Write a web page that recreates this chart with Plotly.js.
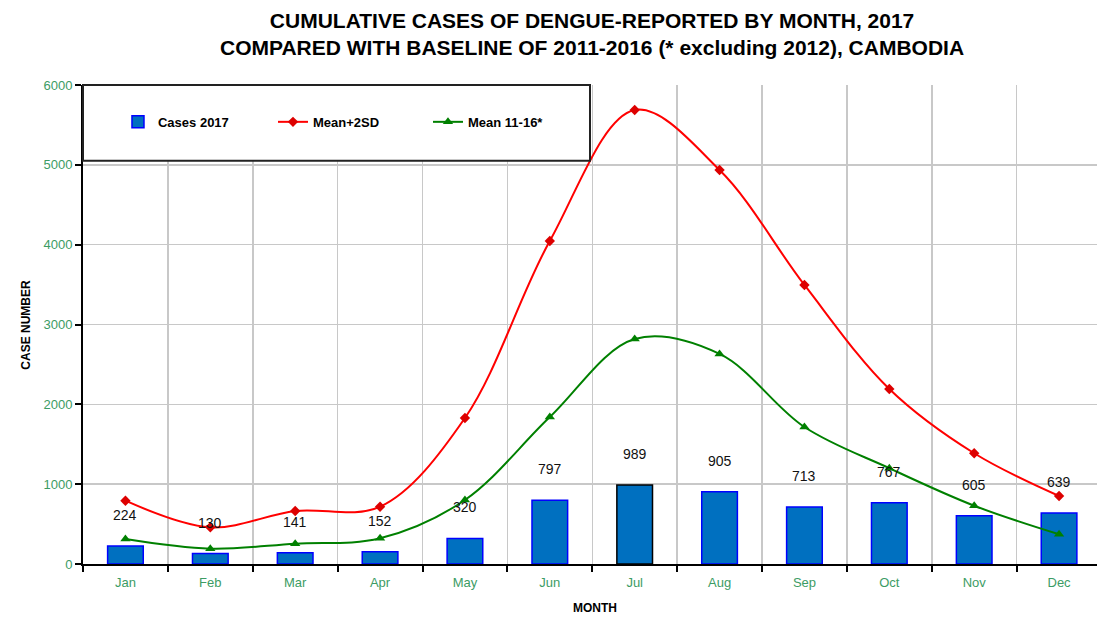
<!DOCTYPE html>
<html><head><meta charset="utf-8">
<script src="https://cdn.plot.ly/plotly-3.0.1.min.js"></script>
<style>html,body{margin:0;padding:0;background:#fff}#chart{width:1097px;height:619px}</style>
</head><body><div id="chart"></div>
<script>
const months = ["Jan","Feb","Mar","Apr","May","Jun","Jul","Aug","Sep","Oct","Nov","Dec"];
const cases2017 = [224,130,141,152,320,797,989,905,713,767,605,639];
const meanPlus2SD = [793,460,664,718,1829,4046,5687,4935,3495,2192,1387,852];
const mean1116 = [313,192,254,322,802,1841,2818,2631,1716,1200,730,372];

const green = "#3c9c64";
const font = "Liberation Sans, Arial, sans-serif";

const traces = [
  {type:"bar", name:"Cases 2017", x:months, y:cases2017, width:0.42,
   marker:{color:"#0070c0", line:{color:months.map(m=>m==="Jul"?"#000000":"#0000ff"), width:1.5}}},
  {type:"scatter", mode:"lines+markers", name:"Mean+2SD", x:months, y:meanPlus2SD,
   line:{color:"#ff0000", width:2, shape:"spline", smoothing:1},
   marker:{symbol:"diamond", size:8, color:"#dd0000"}},
  {type:"scatter", mode:"lines+markers", name:"Mean 11-16*", x:months, y:mean1116,
   line:{color:"#008000", width:2, shape:"spline", smoothing:1},
   marker:{symbol:"triangle-up", size:9, color:"#008000"}}
];

const annotations = months.map((m,i)=>({
  x:m, y:cases2017[i], xref:"x", yref:"y", text:String(cases2017[i]),
  showarrow:false, yanchor:"middle", yshift:31,
  font:{family:font, size:14, color:"#111"}
}));
annotations.push({xref:"paper", yref:"paper", x:0.502, y:1.1075, xanchor:"center", yanchor:"middle",
  text:"<b>CUMULATIVE CASES OF DENGUE-REPORTED BY MONTH, 2017<br>COMPARED WITH BASELINE OF 2011-2016 (* excluding 2012), CAMBODIA</b>",
  showarrow:false, font:{family:font, size:21, color:"#000"}});
annotations.push({xref:"paper", yref:"paper", x:0.505, y:-0.092, xanchor:"center", yanchor:"middle",
  text:"<b>MONTH</b>", showarrow:false, font:{family:font, size:12, color:"#000"}});
annotations.push({xref:"paper", yref:"paper", x:-0.057, y:0.5, xanchor:"center", yanchor:"middle",
  textangle:-90, text:"<b>CASE NUMBER</b>", showarrow:false, font:{family:font, size:12, color:"#000"}});

const layout = {
  width:1097, height:619,
  margin:{l:83, r:0, t:85, b:55},
  paper_bgcolor:"#fff", plot_bgcolor:"#fff",
  showlegend:true,
  xaxis:{type:"category", range:[-0.5, 11.447], tickson:"boundaries",
    showgrid:true, gridcolor:"#c8c8c8", gridwidth:1.5,
    ticks:"outside", ticklen:6, tickwidth:2, tickcolor:"#000",
    showline:true, linecolor:"#000", linewidth:2, ticklabelstandoff:5,
    tickfont:{family:font, size:13, color:green}},
  yaxis:{range:[0,6000], dtick:1000, showgrid:true, gridcolor:"#c8c8c8", gridwidth:1.5,
    ticks:"outside", ticklen:6, tickwidth:2, tickcolor:"#000",
    showline:true, linecolor:"#000", linewidth:2, zeroline:false,
    tickfont:{family:font, size:13, color:green}},
  legend:{orientation:"h", x:0.0345, y:0.923, xanchor:"left", yanchor:"middle",
    bgcolor:"rgba(0,0,0,0)", entrywidth:110, entrywidthmode:"pixels",
    font:{family:font, size:13, color:"#000", weight:"bold"}},
  shapes:[{type:"rect", xref:"paper", yref:"paper", x0:0, x1:0.5, y0:0.842, y1:1,
    fillcolor:"#fff", line:{color:"#222", width:2}, layer:"above"}],
  annotations:annotations,
  bargap:0.5
};
Plotly.newPlot("chart", traces, layout, {displayModeBar:false, staticPlot:true});
</script></body></html>
